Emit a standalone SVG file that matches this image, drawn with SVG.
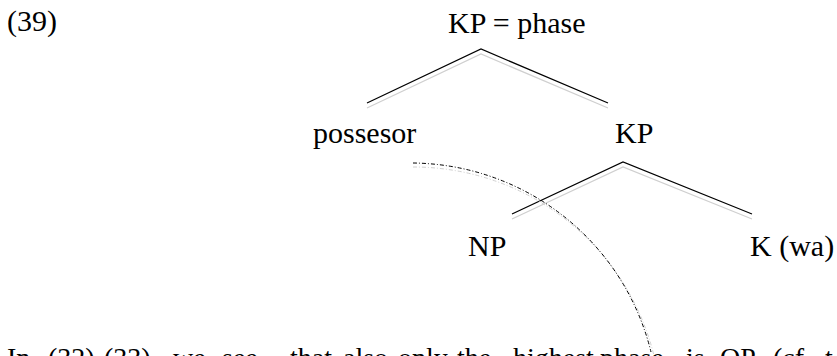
<svg xmlns="http://www.w3.org/2000/svg" width="837" height="356" viewBox="0 0 837 356">
<style>
text{font-family:"Liberation Serif","Times New Roman",Tinos,"DejaVu Serif",serif;fill:#000}
.t{font-size:30px}
.b{font-size:28px}
.e{stroke:#000;stroke-width:1.2;fill:none}
.s{stroke:#cfcfcf;stroke-width:1.2;fill:none}
.d{stroke:#000;stroke-width:1;fill:none;stroke-dasharray:4 2 1 2}
.ds{stroke:#d0d0d0;stroke-width:1;fill:none;stroke-dasharray:4 2 1 2}
</style>
<rect width="837" height="356" fill="#fff"/>
<text id="label39" class="t" x="7" y="31">(39)</text>
<g id="connectors">
<polyline class="s" points="367,108 481,54 608,108"/>
<polyline class="e" points="367,103 481,49 608,103"/>
<polyline class="s" points="512,219 623,167 752,219"/>
<polyline class="e" points="512,214 623,162 752,214"/>
<path class="ds" d="M413,167 A248,248 0 0 1 655,360"/>
<path class="d" d="M413,163 A248,248 0 0 1 651,352"/>
</g>
<g id="node-root"><text class="t" x="448" y="33" font-size="31">KP = phase</text></g>
<g id="node-possesor"><text class="t" x="313" y="143">possesor</text></g>
<g id="node-kp"><text class="t" x="615" y="143">KP</text></g>
<g id="node-np"><text class="t" x="468" y="256">NP</text></g>
<g id="node-k"><text class="t" x="750" y="256">K (wa)</text></g>
<text class="b" y="367"><tspan x="7">In</tspan><tspan x="48">(32)-(33),</tspan><tspan x="173">we</tspan><tspan x="222">see</tspan><tspan x="290">that</tspan><tspan x="343">also</tspan><tspan x="398">only</tspan><tspan x="457">the</tspan><tspan x="513">highest</tspan><tspan x="600">phase</tspan><tspan x="686">is</tspan><tspan x="720">OP</tspan><tspan x="773">(cf.</tspan><tspan x="825">t</tspan></text>
</svg>
